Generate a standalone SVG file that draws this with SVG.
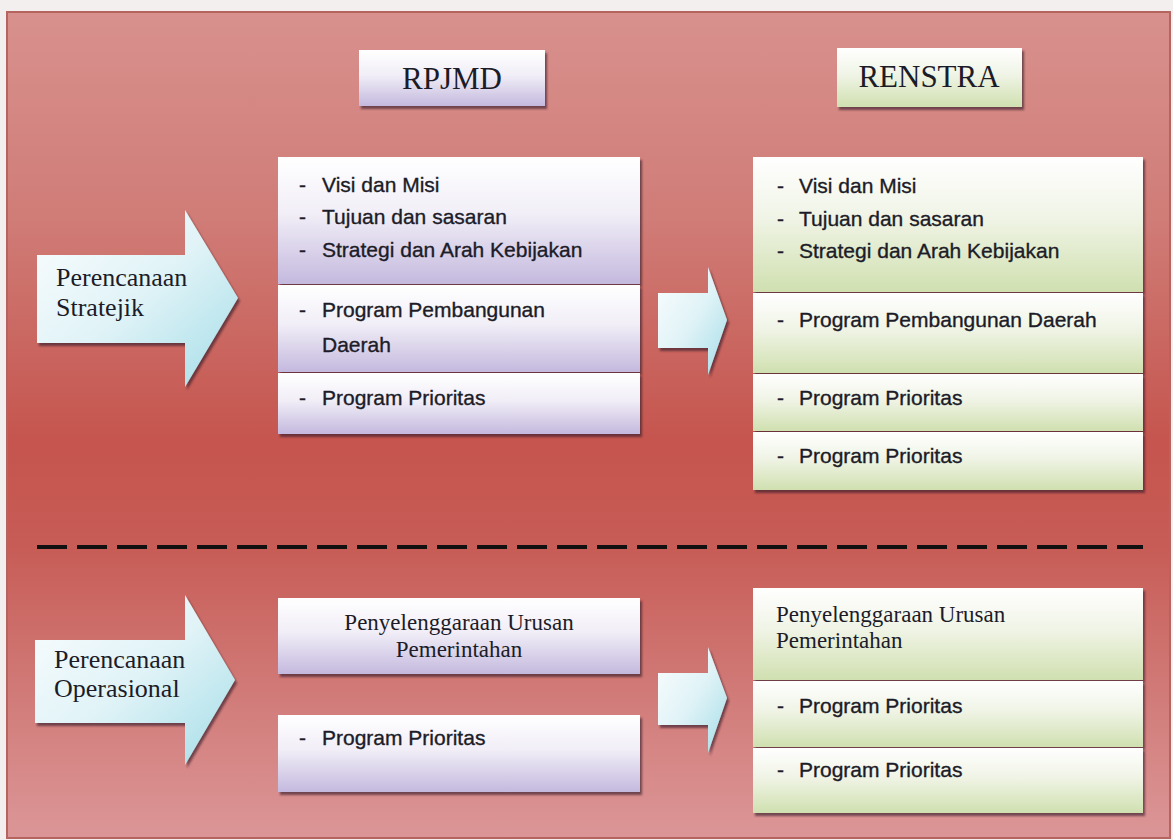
<svg xmlns="http://www.w3.org/2000/svg" width="1173" height="840" viewBox="0 0 1173 840">
  <style>
    .serif { font-family: "Liberation Serif", "Times New Roman", serif; fill: #1c1c28; }
    .sans { font-family: "Liberation Sans", Arial, sans-serif; font-size: 21px; fill: #1c1c28; stroke: #1c1c28; stroke-width: 0.35px; }
    .lbl { font-size: 26px; }
    .ttl { font-size: 31px; }
    .mid { font-size: 23px; }
    .purple { fill: url(#gPurple); filter: url(#shadow); }
    .green { fill: url(#gGreen); filter: url(#shadow); }
    .arrow { fill: url(#gArrow); filter: url(#shadow); }
  </style>
  <defs>
    <linearGradient id="gBg" x1="0" y1="0" x2="0" y2="1">
      <stop offset="0" stop-color="#d8918e"/>
      <stop offset="0.25" stop-color="#d07c77"/>
      <stop offset="0.52" stop-color="#c5554e"/>
      <stop offset="0.64" stop-color="#c75b55"/>
      <stop offset="0.85" stop-color="#d27f7d"/>
      <stop offset="1" stop-color="#dc9697"/>
    </linearGradient>
    <linearGradient id="gPurple" x1="0" y1="0" x2="0" y2="1">
      <stop offset="0" stop-color="#ffffff"/>
      <stop offset="0.45" stop-color="#f1eef7"/>
      <stop offset="1" stop-color="#c4b9de"/>
    </linearGradient>
    <linearGradient id="gGreen" x1="0" y1="0" x2="0" y2="1">
      <stop offset="0" stop-color="#ffffff"/>
      <stop offset="0.45" stop-color="#f0f4e6"/>
      <stop offset="1" stop-color="#d0e0b0"/>
    </linearGradient>
    <linearGradient id="gArrow" x1="0" y1="0" x2="1" y2="1">
      <stop offset="0" stop-color="#fbfdfe"/>
      <stop offset="0.5" stop-color="#e0f3f7"/>
      <stop offset="1" stop-color="#a4dde8"/>
    </linearGradient>
    <filter id="shadow" x="-10%" y="-10%" width="120%" height="130%">
      <feDropShadow dx="2" dy="3" stdDeviation="1.2" flood-color="#3a1e2a" flood-opacity="0.65"/>
    </filter>
  </defs>

  <rect x="0" y="0" width="1173" height="840" fill="#f4efef"/>
  <rect id="frame" x="7" y="12" width="1163" height="826" fill="url(#gBg)" stroke="#b56460" stroke-width="2"/>

  <g id="title-rpjmd">
    <rect class="purple" x="359" y="50" width="186" height="56"/>
    <text class="serif ttl" x="452" y="89" text-anchor="middle">RPJMD</text>
  </g>
  <g id="title-renstra">
    <rect class="green" x="837" y="48" width="185" height="59"/>
    <text class="serif ttl" x="929" y="87" text-anchor="middle">RENSTRA</text>
  </g>

  <g id="arrow-stratejik">
    <path class="arrow" d="M37,255 L185,255 L185,210 L238,298 L185,387 L185,343 L37,343 Z"/>
    <text class="serif lbl" x="56" y="286">Perencanaan</text>
    <text class="serif lbl" x="56" y="316">Stratejik</text>
  </g>

  <g id="arrow-operasional">
    <path class="arrow" d="M35,640 L185,640 L185,595 L235,680 L185,765 L185,723 L35,723 Z"/>
    <text class="serif lbl" x="54" y="668">Perencanaan</text>
    <text class="serif lbl" x="54" y="697">Operasional</text>
  </g>

  <g id="rpjmd-strategic">
    <rect class="purple" x="278" y="157" width="362" height="127"/>
    <rect class="purple" x="278" y="285" width="362" height="87"/>
    <rect class="purple" x="278" y="373" width="362" height="61"/>
    <text class="sans" x="299" y="192">-</text><text class="sans" x="322" y="192">Visi dan Misi</text>
    <text class="sans" x="299" y="224">-</text><text class="sans" x="322" y="224">Tujuan dan sasaran</text>
    <text class="sans" x="299" y="257">-</text><text class="sans" x="322" y="257">Strategi dan Arah Kebijakan</text>
    <text class="sans" x="299" y="317">-</text><text class="sans" x="322" y="317">Program Pembangunan</text>
    <text class="sans" x="322" y="352">Daerah</text>
    <text class="sans" x="299" y="405">-</text><text class="sans" x="322" y="405">Program Prioritas</text>
  </g>

  <g id="renstra-strategic">
    <rect class="green" x="753" y="157" width="390" height="135"/>
    <rect class="green" x="753" y="293" width="390" height="80"/>
    <rect class="green" x="753" y="374" width="390" height="57"/>
    <rect class="green" x="753" y="432" width="390" height="58"/>
    <text class="sans" x="777" y="193">-</text><text class="sans" x="799" y="193">Visi dan Misi</text>
    <text class="sans" x="777" y="226">-</text><text class="sans" x="799" y="226">Tujuan dan sasaran</text>
    <text class="sans" x="777" y="258">-</text><text class="sans" x="799" y="258">Strategi dan Arah Kebijakan</text>
    <text class="sans" x="777" y="327">-</text><text class="sans" x="799" y="327">Program Pembangunan Daerah</text>
    <text class="sans" x="777" y="405">-</text><text class="sans" x="799" y="405">Program Prioritas</text>
    <text class="sans" x="777" y="463">-</text><text class="sans" x="799" y="463">Program Prioritas</text>
  </g>

  <g id="rpjmd-urusan">
    <rect class="purple" x="278" y="598" width="362" height="76"/>
    <text class="serif mid" x="459" y="630" text-anchor="middle">Penyelenggaraan Urusan</text>
    <text class="serif mid" x="459" y="657" text-anchor="middle">Pemerintahan</text>
  </g>
  <g id="rpjmd-prioritas">
    <rect class="purple" x="278" y="715" width="362" height="77"/>
    <text class="sans" x="299" y="745">-</text><text class="sans" x="322" y="745">Program Prioritas</text>
  </g>

  <g id="renstra-operational">
    <rect class="green" x="753" y="588" width="390" height="92"/>
    <rect class="green" x="753" y="681" width="390" height="66"/>
    <rect class="green" x="753" y="748" width="390" height="65"/>
    <text class="serif mid" x="776" y="622">Penyelenggaraan Urusan</text>
    <text class="serif mid" x="776" y="648">Pemerintahan</text>
    <text class="sans" x="777" y="713">-</text><text class="sans" x="799" y="713">Program Prioritas</text>
    <text class="sans" x="777" y="777">-</text><text class="sans" x="799" y="777">Program Prioritas</text>
  </g>

  <g id="connectors">
    <path class="arrow" d="M658,293 L708,293 L708,267 L727,320 L708,375 L708,348 L658,348 Z"/>
    <path class="arrow" d="M658,673 L708,673 L708,647 L727,698 L708,753 L708,725 L658,725 Z"/>
    <line x1="37" y1="547" x2="1143" y2="547" stroke="#111" stroke-width="4" stroke-dasharray="30 10"/>
  </g>
</svg>
